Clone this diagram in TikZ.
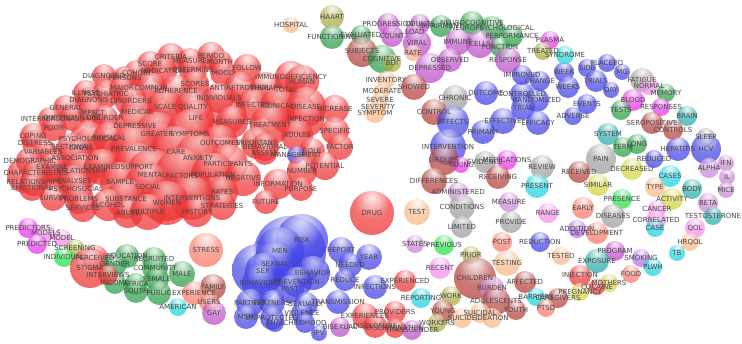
\documentclass[tikz,border=0pt]{standalone}
\usepackage{fontspec}
\newfontfamily\vosfont{DejaVu Sans}

\definecolor{cred}{RGB}{238,44,44}
\definecolor{cdred}{RGB}{178,58,52}
\definecolor{cblue}{RGB}{60,60,228}
\definecolor{cgreen}{RGB}{36,156,66}
\definecolor{clgreen}{RGB}{25,225,60}
\definecolor{cpurp}{RGB}{188,72,196}
\definecolor{cmag}{RGB}{232,45,235}
\definecolor{cviolet}{RGB}{182,105,235}
\definecolor{clav}{RGB}{200,128,212}
\definecolor{cpink}{RGB}{248,135,235}
\definecolor{cpeach}{RGB}{250,182,130}
\definecolor{csal}{RGB}{248,118,100}
\definecolor{cgray}{RGB}{155,155,155}
\definecolor{cteal}{RGB}{36,168,168}
\definecolor{ccyan}{RGB}{20,210,222}
\definecolor{colive}{RGB}{168,168,58}
\definecolor{cyel}{RGB}{210,210,58}
\colorlet{bub}{cred}

\pgfdeclareradialshading[bub]{bubsh}{\pgfpoint{0bp}{18bp}}{%
  color(0bp)=(bub!15!white); color(8bp)=(bub!42!white);
  color(20bp)=(bub!92!white); color(34bp)=(bub); color(100bp)=(bub)}

\tikzset{
  bubble/.style={circle, inner sep=0pt, draw=none, /utils/exec={\colorlet{bub}{#1}},
    shading=bubsh, fill opacity=.72},
  word/.style={font=\vosfont\fontsize{7}{7}\selectfont, text=black!72, inner sep=0pt}
}

% x/y/radius/colour/term
\def\vosterms{%
171/57/14/cred/CRITERIA, 211/56/14/cred/PERIOD, 190/61/13/cred/MEASURE,
220/62/12/cred/MONTH, 150/64/13/cred/SCORE, 137/73/13/cred/COHORT,
163/71/14/cred/MEDICATION, 193/70/14/cred/DETERMINE, 223/73/13/cred/MOOD,
247/68/14/cred/FOLLOW, 104/76/12/cred/DIAGNOSED, 125/78/12/cred/PERSONS,
195/84/14/cred/SCORES, 86/93/13/cred/ILLNESS, 106/94/14/cred/PSYCHIATRIC,
122/89/13/cred/MAJOR, 151/88/16/cred/COMMON, 176/91/16/cred/ADHERENCE,
240/88/16/cred/ANTIRETROVIRAL, 266/88/16/cred/THERAPY, 286/90/13/cred/TOTAL,
291/77/16/cred/IMMUNODEFICIENCY, 302/82/17/cred/HUMAN, 219/98/15/cred/INDIVIDUALS,
89/100/13/cred/DIAGNOSIS, 131/101/16/cred/DISORDERS, 66/108/13/cred/GENERAL,
92/113/15/cred/IMPACT, 137/112/17/cred/MEDICAL, 165/107/18/cred/SCALE,
193/107/18/cred/QUALITY, 253/105/16/cred/INFECTED, 278/106/18/cred/CLINICAL,
306/107/20/cred/DISEASE, 335/109/14/cred/INCREASE, 50/119/12/cred/INTERPERSONAL,
72/118/13/cred/QUESTIONNAIRE, 105/118/13/cred/DISORDER, 196/118/18/cred/LIFE,
232/122/16/cred/MEASURES, 306/119/18/cred/INFECTION, 270/125/20/cred/TREATMENT,
54/128/13/cred/POOR, 135/126/20/cred/DEPRESSIVE, 297/135/16/cred/ADULTS,
335/131/14/cred/SPECIFIC, 33/136/13/cred/COPING, 35/143/13/cred/DISTRESS,
88/139/18/cred/PSYCHOLOGICAL, 109/138/16/cred/PHYSICAL, 157/134/22/cred/GREATER,
190/134/24/cred/SYMPTOMS, 220/143/18/cred/OUTCOMES, 257/143/16/cred/IMPORTANT,
265/147/14/cred/BEHAVIORAL, 340/147/13/cred/FACTOR, 71/147/14/cred/SECTIONAL,
81/148/12/cred/CROSS, 43/152/14/cred/VARIABLES, 134/149/24/cred/PREVALENCE,
176/152/26/cred/CARE, 265/153/12/cred/ASSESS, 312/151/13/cred/ROLE,
296/155/9/cblue/MANAGEMENT,
30/161/14/cred/DEMOGRAPHIC, 75/158/18/cred/ASSOCIATION, 198/158/24/cred/ANXIETY,
228/164/20/cred/PARTICIPANTS, 325/166/14/cred/POTENTIAL, 52/167/15/cred/EXAMINE,
82/171/18/cred/RELATIONSHIP, 102/167/18/cred/EXAMINED, 137/167/24/cred/SUPPORT,
302/171/15/cred/NUMBER, 36/173/14/cred/CHARACTERISTICS, 152/175/26/cred/MENTAL,
182/176/28/cred/FACTORS, 213/175/22/cred/POPULATION, 243/178/18/cred/NEGATIVE,
74/181/16/cred/ANALYSES, 120/182/20/cred/SAMPLE, 34/182/14/cred/RELATIONSHIPS,
278/184/15/cred/INFORMATION, 32/188/13/cred/EMOTIONAL, 76/189/16/cred/PSYCHOSOCIAL,
148/187/24/cred/SOCIAL, 301/189/12/cred/PURPOSE, 222/192/16/cred/RATES,
53/198/13/cred/SURVEY, 79/199/15/cred/PROBLEMS, 126/199/20/cred/SUBSTANCE,
192/198/22/cred/INTERVENTIONS, 167/203/22/cred/WOMEN, 266/202/12/cred/FUTURE,
83/208/14/cred/SERVICES, 108/205/16/cred/ALCOHOL, 222/206/14/cred/STRATEGIES,
128/213/15/cred/ABUSE, 148/212/18/cred/MULTIPLE, 197/212/15/cred/HISTORY,
28/228/10/cmag/PREDICTORS, 46/233/9/cpink/MODELS, 62/238/9/cpink/MODEL,
37/244/10/cmag/PREDICTED, 75/248/9/colive/SCREENING, 64/257/10/clgreen/INDIVIDUAL,
95/258/13/cred/PERCEIVED, 90/268/20/cred/STIGMA,
127/256/12/cgreen/EDUCATION, 115/264/12/cgreen/GENDER, 154/259/12/cgreen/RECRUITED,
155/268/13/cgreen/COMMUNITY, 182/274/13/cgreen/MALE, 157/279/12/cgreen/FEMALE,
115/283/11/cgreen/INCOME, 136/284/11/cgreen/AFRICA, 136/291/12/cgreen/SOUTH,
159/293/12/cgreen/PUBLIC, 108/275/10/cred/INTERVIEWS,
206/250/17/csal/STRESS, 213/287/13/cdred/FAMILY, 194/293/12/csal/EXPERIENCE,
209/302/10/csal/USERS, 178/307/9/ccyan/AMERICAN, 214/313/12/cpurp/GAY,
302/240/26/cblue/RISK, 280/251/24/cblue/MEN, 275/264/22/cblue/SEXUAL,
263/271/18/cblue/SEX, 260/283/18/cblue/BEHAVIORS, 313/273/17/cblue/BEHAVIOR,
297/282/15/cblue/PREVENTION, 290/289/14/cblue/PAST, 341/250/13/cblue/REPORT,
369/257/13/cblue/YEAR, 350/265/12/cblue/NEEDED, 345/280/11/cblue/REDUCE,
375/287/12/cblue/INFECTIONS, 338/302/12/cblue/TRANSMISSION, 250/303/14/cblue/PARTNER,
272/303/13/cblue/PARTNERS, 306/304/12/cblue/SEXUALLY, 246/317/12/cblue/MSM,
272/318/12/cblue/UNPROTECTED, 302/313/11/cblue/VIOLENCE, 275/323/9/cblue/ANAL,
305/323/10/cblue/CHILDHOOD, 319/333/8/cblue/IPV,
291/25/8/cpeach/HOSPITAL, 332/17/12/colive/HAART, 332/37/12/cgreen/FUNCTIONING,
361/35/10/cgreen/EVALUATED, 362/52/15/cdred/SUBJECTS, 382/59/14/cgreen/COGNITIVE,
392/63/9/colive/BDI, 388/24/11/cpurp/PROGRESSION, 420/24/10/cpurp/COUNTS,
392/36/11/cpurp/COUNT, 415/32/10/cpurp/LOAD, 417/43/14/cpurp/VIRAL,
413/53/8/cpeach/RATE, 441/26/11/cgreen/IMPAIRMENT, 472/23/12/cgreen/NEUROCOGNITIVE,
492/28/12/cgreen/NEUROPSYCHOLOGICAL, 512/36/11/cgreen/PERFORMANCE,
500/47/10/cgreen/FUNCTION, 458/42/13/cpurp/IMMUNE, 480/44/14/cpurp/CELLS,
450/60/12/cpurp/OBSERVED, 430/68/15/cpurp/DEPRESSED, 508/60/13/cpurp/RESPONSE,
386/80/9/cpeach/INVENTORY, 382/91/8/cpeach/MODERATE, 380/100/8/cpeach/SEVERE,
378/107/8/cpeach/SEVERITY, 375/113/10/cpeach/SYMPTOM, 414/87/13/cdred/SHOWED,
455/98/13/cgray/CHRONIC, 434/112/13/cdred/CONTROL,
453/122/16/cblue/EFFECTS, 448/147/18/cblue/INTERVENTION, 483/132/12/cblue/PRIMARY,
486/93/12/cblue/OUTCOME, 522/94/12/cblue/CONTROLLED, 537/100/12/cblue/RANDOMIZED,
523/108/12/cblue/TRIAL, 522/75/10/cblue/IMPROVED, 540/81/10/cblue/CHANGE,
564/72/10/cblue/WEEK, 568/87/11/cblue/WEEKS, 587/68/9/cblue/SIDE,
607/63/9/cblue/PLACEBO, 622/72/8/cblue/MG, 596/81/11/cblue/TRIALS,
611/90/8/cblue/DAY, 587/104/10/cblue/EVENTS, 573/116/9/cblue/ADVERSE,
538/123/12/cblue/EFFICACY, 503/121/13/cblue/EFFECTIVE,
444/160/15/cdred/GROUPS, 461/165/8/cmag/TAKING, 485/162/11/cgray/EVIDENCE,
434/181/13/cdred/DIFFERENCES, 458/192/10/clav/ADMINISTERED, 462/207/13/cgray/CONDITIONS,
462/227/11/cgray/LIMITED,
550/40/9/cmag/PLASMA, 543/51/9/colive/TREATED, 565/55/9/ccyan/SYNDROME,
642/80/12/cgray/FATIGUE, 649/86/9/cpink/NORMAL, 666/93/9/cgreen/MEMORY,
633/100/11/cmag/BLOOD, 661/107/9/cmag/RESPONSES, 621/110/10/cgreen/TESTS,
687/116/10/cteal/BRAIN, 652/123/11/cdred/SEROPOSITIVE, 673/130/10/cdred/CONTROLS,
608/134/11/cteal/SYSTEM, 637/144/10/cgreen/LONG, 623/147/10/cgreen/TERM,
706/137/9/cgray/SLEEP, 654/159/9/cblue/REDUCED, 678/149/12/cblue/HEPATITIS,
706/149/15/cblue/HCV, 726/163/8/clav/IFN, 709/168/10/clav/ALPHA,
727/177/8/clav/IL, 726/190/8/clav/MICE, 601/159/15/cgray/PAIN,
507/160/10/cmag/MEDICATIONS, 542/167/12/cgray/REVIEW, 579/172/11/cdred/RECEIVED,
632/169/11/cyel/DECREASED, 670/176/11/ccyan/CASES, 498/177/12/cdred/RECEIVING,
537/186/12/ccyan/PRESENT, 598/185/11/cyel/SIMILAR, 655/187/10/cpeach/TYPE,
692/189/10/cteal/BODY, 622/199/10/clgreen/PRESENCE, 672/199/11/cyel/ACTIVITY,
708/203/10/clav/BETA, 509/202/10/clav/MEASURE, 548/213/10/cpink/RANGE,
583/208/11/csal/EARLY, 657/209/9/cpink/CANCER, 613/216/12/cgray/DISEASES,
713/216/9/cteal/TESTOSTERONE, 656/220/10/cpink/CORRELATED, 655/228/9/ccyan/CASE,
511/222/11/cgray/PROVIDE, 577/229/9/cviolet/ADDITION, 597/233/11/csal/DEVELOPMENT,
695/228/10/cpink/QOL,
502/242/10/csal/POST, 540/242/10/cblue/REDUCTION, 690/242/9/cpeach/HRQOL,
677/253/8/ccyan/TB, 615/251/10/cpurp/PROGRAM, 641/258/9/cviolet/SMOKING,
653/267/9/ccyan/PLWH, 597/261/12/cteal/EXPOSURE, 561/256/9/cpeach/TESTED,
507/263/13/cpeach/TESTING, 631/274/9/csal/FOOD, 580/276/11/cred/INJECTION,
609/283/9/cyel/MOTHERS, 597/287/8/cred/COCAINE, 525/282/11/cdred/AFFECTED,
580/292/9/cyel/PREGNANCY, 536/297/9/ccyan/BARRIERS, 558/298/10/cdred/CAREGIVERS,
546/308/9/csal/PTSD, 516/310/10/cdred/YOUTH,
372/213/22/cred/DRUG, 417/212/13/cpeach/TEST, 415/244/9/clav/STATES,
444/245/10/clgreen/PREVIOUS, 471/255/9/colive/PRIOR, 440/268/11/cpink/RECENT,
475/278/21/cdred/CHILDREN, 492/288/12/clav/BURDEN, 451/296/10/colive/WORK,
496/301/14/cdred/ADOLESCENTS, 443/311/11/cdred/YOUNG, 480/313/10/cpeach/SUICIDAL,
462/318/10/cpeach/SUICIDE, 492/318/10/cpeach/IDEATION, 437/323/9/colive/WORKERS,
405/281/11/cred/EXPERIENCED, 421/298/10/ccyan/REPORTING, 395/312/11/cred/PROVIDERS,
365/316/13/cred/EXPERIENCES, 340/327/10/cpurp/BISEXUAL, 375/326/12/cred/DISCLOSURE,
395/328/10/cred/DISCRIMINATION, 412/330/10/cpurp/TRANSGENDER}

\begin{document}
\begin{tikzpicture}[x=1pt,y=-1pt]
  \useasboundingbox (0,0) rectangle (742,344);

  % unlabelled bubbles behind the clusters
  \foreach \x/\y/\r/\c [count=\i] in {165/185/36/cred, 100/150/28/cred, 220/112/26/cred,
      290/110/24/cred, 60/170/22/cred, 170/120/24/cred, 25/175/18/cred,
      290/252/36/cblue, 258/270/26/cblue}
    \node[bubble=\c, minimum size=2*\r] (G\i) at (\x,\y) {};

  \foreach \x/\y/\r/\c/\t [count=\i] in \vosterms
    \node[bubble=\c, minimum size=2*\r] (B\i) at (\x,\y) {};
  \foreach \x/\y/\r/\c/\t [count=\i] in \vosterms
    \node[word] (W\i) at (B\i) {\t};
\end{tikzpicture}
\end{document}
